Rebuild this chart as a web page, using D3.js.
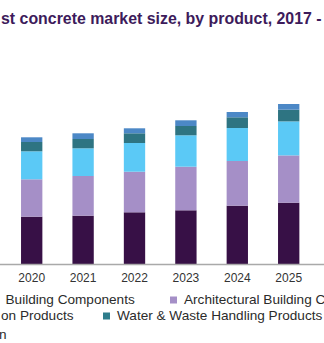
<!DOCTYPE html>
<html>
<head>
<meta charset="utf-8">
<script src="https://cdn.jsdelivr.net/npm/d3@7"></script>
<style>
  html, body { margin: 0; padding: 0; background: #fff; }
  svg { display: block; overflow: hidden; font-family: "Liberation Sans", Arial, sans-serif; }
</style>
</head>
<body>
<svg id="chart" width="324" height="343"></svg>
<script>
// Years shown on the axis
const years = ["2020", "2021", "2022", "2023", "2024", "2025"];

// Segment values per year (bottom to top of each stack)
const structural    = [4.73, 4.83, 5.17, 5.37, 5.83, 6.13];
const architectural = [3.74, 3.97, 4.06, 4.36, 4.47, 4.73];
const transportation = [2.80, 2.77, 2.87, 3.14, 3.30, 3.40];
const waterWaste    = [0.93, 0.93, 0.97, 0.93, 1.07, 1.17];
const others        = [0.47, 0.57, 0.50, 0.57, 0.53, 0.57];

const seriesKeys = ["structural", "architectural", "transportation", "waterWaste", "others"];
const seriesColors = ["#371046", "#a58fc7", "#5bc9f6", "#2e7482", "#4c88c6"];

const rows = years.map((y, i) => ({
  year: y,
  structural: structural[i],
  architectural: architectural[i],
  transportation: transportation[i],
  waterWaste: waterWaste[i],
  others: others[i]
}));

const svg = d3.select("#chart");
const baseY = 264;

const x = d3.scaleBand()
  .domain(years)
  .range([6, 314.4])
  .paddingInner(0.585)
  .paddingOuter(0.2925);

const y = d3.scaleLinear()
  .domain([0, 20])
  .range([baseY, 64]);

const color = d3.scaleOrdinal().domain(seriesKeys).range(seriesColors);

const stacked = d3.stack().keys(seriesKeys)(rows);

// Title (heading runs past both edges of the frame)
svg.append("text")
  .attr("x", 1)
  .attr("y", 24)
  .attr("font-size", 15.9)
  .attr("font-weight", "bold")
  .attr("fill", "#3d1b5b")
  .text("st concrete market size, by product, 2017 -");

// Stacked bars
svg.append("g")
  .selectAll("g")
  .data(stacked)
  .join("g")
  .attr("fill", d => color(d.key))
  .selectAll("rect")
  .data(d => d)
  .join("rect")
  .attr("x", d => x(d.data.year))
  .attr("width", x.bandwidth())
  .attr("y", d => y(d[1]))
  .attr("height", d => y(d[0]) - y(d[1]));

// Category axis
const xAxis = d3.axisBottom(x).tickSize(0).tickPadding(9);
const axisG = svg.append("g")
  .attr("transform", `translate(0,${baseY})`)
  .call(xAxis);
axisG.select(".domain").remove();
axisG.selectAll("text")
  .attr("font-size", 12)
  .attr("font-family", "Liberation Sans, Arial, sans-serif")
  .attr("fill", "#333");

svg.append("line")
  .attr("x1", 0).attr("x2", 324)
  .attr("y1", baseY + 0.5).attr("y2", baseY + 0.5)
  .attr("stroke", "#a9a9a9")
  .attr("stroke-width", 1.5);

// Legend
const legendFont = 13.6;
const legend = svg.append("g")
  .attr("font-size", legendFont)
  .attr("fill", "#2b2b2b");

legend.append("text").attr("x", 5.5).attr("y", 304).text("Building Components");

legend.append("rect")
  .attr("x", 170).attr("y", 296.5).attr("width", 7).attr("height", 7)
  .attr("fill", color("architectural"));
legend.append("text").attr("x", 184).attr("y", 304).text("Architectural Building Components");

legend.append("text").attr("x", 1).attr("y", 320).text("on Products");

legend.append("rect")
  .attr("x", 103).attr("y", 312.5).attr("width", 7).attr("height", 7)
  .attr("fill", "#2e7d8c");
legend.append("text").attr("x", 117).attr("y", 320).text("Water & Waste Handling Products");

legend.append("text").attr("x", -1).attr("y", 339).text("n");
</script>
</body>
</html>
